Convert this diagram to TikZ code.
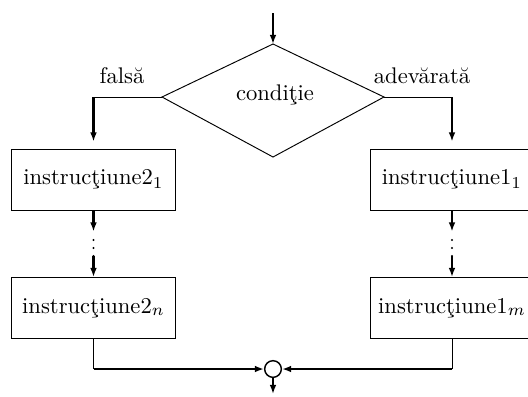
\documentclass[tikz,border=0pt]{standalone}
\usetikzlibrary{arrows.meta}
% one drawing unit = 0.42pt
\newcommand\pxu{0.42pt}
\begin{document}
\begin{tikzpicture}[x=0.42pt,y=-0.42pt,
  font=\fontsize{9.5pt}{11pt}\selectfont,
  thinline/.style={line width=0.4pt},
  flow/.style={line width=0.85pt,-{Latex[length=3.8pt,width=2.8pt]}},
  stepbox/.style={draw,line width=0.4pt,minimum width=164*\pxu,
    minimum height=61*\pxu,inner sep=0pt},
  gapnode/.style={inner sep=0pt,minimum width=1pt,minimum height=24*\pxu},
  joinnode/.style={draw,circle,line width=0.6pt,inner sep=0pt,minimum size=7pt},
  lbl/.style={inner sep=0pt,anchor=base}]
\useasboundingbox (0,0) rectangle (528,396);

% decision diamond
\coordinate (start) at (273,13);
\coordinate (dt) at (273,44);
\coordinate (dl) at (162,97);
\coordinate (dr) at (384,97);
\coordinate (db) at (273,157);
\draw[thinline] (dt) -- (dr) -- (db) -- (dl) -- cycle;
\node[lbl] (ctext) at (275,100.5) {condiţie};
\node[lbl] (lblF) at (122,83) {falsă};
\node[lbl] (lblT) at (422,83) {adevărată};

% instruction boxes
\node[stepbox] (b1L) at (93.5,179.5) {instrucţiune2$_1$};
\node[stepbox] (b2L) at (93.5,308) {instrucţiune2$_n$};
\node[stepbox] (b1R) at (452,179.5) {instrucţiune1$_1$};
\node[stepbox] (b2R) at (452,308) {instrucţiune1$_m$};

% elided steps
\node[gapnode] (gL) at (93.5,244) {};
\node[gapnode] (gR) at (452,244) {};
\foreach \g in {gL,gR}
  \foreach \dy in {-4,4,12}
    \fill (\g.center) ++(0,\dy) circle[radius=0.5pt];

% junction
\node[joinnode] (join) at (273,369) {};
\coordinate (finish) at (273,394);

% connectors
\draw[flow] (start) -- (dt);
\draw[thinline] (dl) -- (dl -| b1L.north);
\draw[flow,shorten >=7*\pxu] (dl -| b1L.north) -- (b1L.north);
\draw[thinline] (dr) -- (dr -| b1R.north);
\draw[flow,shorten >=7*\pxu] (dr -| b1R.north) -- (b1R.north);

\draw[flow] (b1L.south) -- (gL.north);
\draw[flow] (gL.south) -- (b2L.north);
\draw[flow] (b1R.south) -- (gR.north);
\draw[flow] (gR.south) -- (b2R.north);

\draw[thinline] (b2L.south) -- (b2L.south |- join);
\draw[flow] (b2L.south |- join) -- (join.west);
\draw[thinline] (b2R.south) -- (b2R.south |- join);
\draw[flow] (b2R.south |- join) -- (join.east);
\draw[flow] (join.south) -- (finish);
\end{tikzpicture}
\end{document}
